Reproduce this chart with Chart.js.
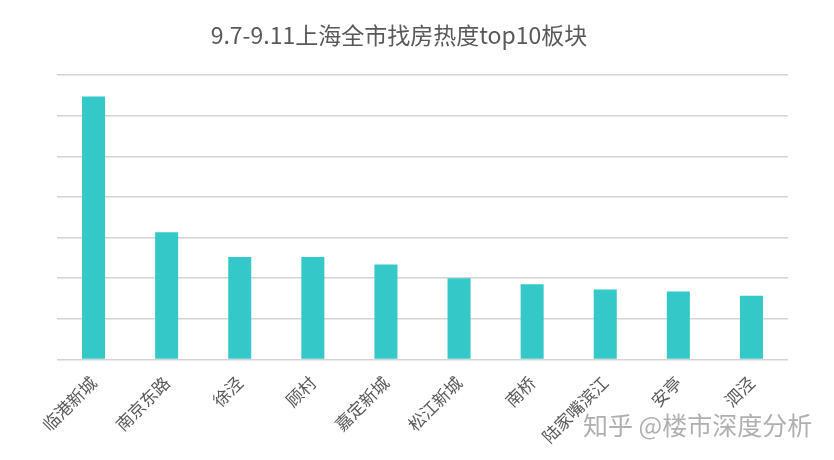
<!DOCTYPE html>
<html>
<head>
<meta charset="utf-8">
<script src="https://cdn.jsdelivr.net/npm/chart.js@4"></script>
<style>
  html, body { margin: 0; padding: 0; background: #fff; }
  #wrap { position: relative; width: 834px; height: 460px; }
  #title {
    position: absolute; left: 0; width: 798px; top: 17px;
    text-align: center; font: 23px "Noto Sans CJK SC", sans-serif; color: #595959;
  }
  #mark {
    position: absolute; left: 583px; top: 406px;
    font: 25px "Noto Sans CJK SC", sans-serif; color: #b0b0b0; white-space: pre;
  }
</style>
</head>
<body>
<div id="wrap">
  <canvas id="c" width="834" height="460"></canvas>
  <div id="title">9.7-9.11上海全市找房热度top10板块</div>
  <div id="mark">知乎 @楼市深度分析</div>
</div>
<script>
// 板块名称
const districts = ['临港新城', '南京东路', '徐泾', '顾村', '嘉定新城', '松江新城', '南桥', '陆家嘴滨江', '安亭', '泗泾'];
// 找房热度（原图无刻度，按网格估读）
const heat = [6.47, 3.13, 2.52, 2.52, 2.34, 2.0, 1.85, 1.72, 1.67, 1.57];
const yMax = 7;

const ctx = document.getElementById('c');
new Chart(ctx, {
  type: 'bar',
  data: {
    labels: districts,
    datasets: [{
      data: heat,
      backgroundColor: '#34c9c8',
      barPercentage: 0.315,
      categoryPercentage: 1
    }]
  },
  options: {
    responsive: false,
    animation: false,
    layout: { padding: { left: 57, right: 46, top: 75, bottom: 0 } },
    plugins: { legend: { display: false }, tooltip: { enabled: false } },
    scales: {
      x: {
        grid: { display: false, drawTicks: false },
        border: { display: false },
        ticks: {
          autoSkip: false, maxRotation: 45, minRotation: 45, padding: 13,
          color: '#595959', font: { size: 17, family: '"Noto Sans CJK SC", sans-serif' }
        }
      },
      y: {
        min: 0, max: yMax,
        ticks: { display: false, stepSize: 1 },
        grid: { color: '#d4d4d4', lineWidth: 1.5, drawTicks: false },
        border: { display: false }
      }
    }
  }
});
</script>
</body>
</html>
